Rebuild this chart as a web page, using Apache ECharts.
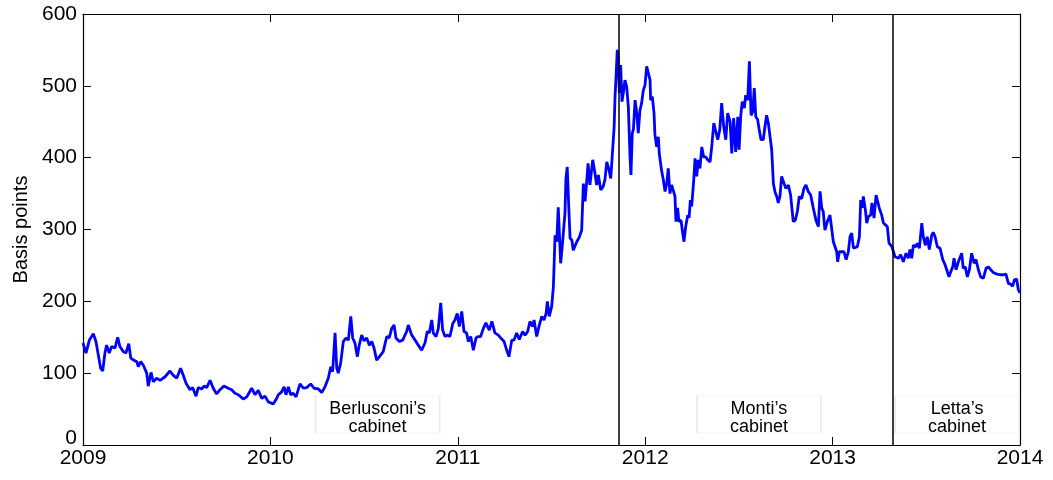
<!DOCTYPE html>
<html>
<head>
<meta charset="utf-8">
<script src="https://cdn.jsdelivr.net/npm/echarts@6/dist/echarts.min.js"></script>
<style>
  html, body { margin: 0; padding: 0; background: #fff; }
  #chart { width: 1053px; height: 480px; }
</style>
</head>
<body>
<div id="chart"></div>
<script>
// Italian 10-year BTP–Bund spread, basis points (dates as decimal years)
const dates = [
  2009.000, 2009.016, 2009.034, 2009.055, 2009.069, 2009.082, 2009.094, 2009.105, 2009.117, 2009.126,
  2009.140, 2009.153, 2009.171, 2009.185, 2009.197, 2009.215, 2009.229, 2009.244, 2009.255, 2009.272,
  2009.287, 2009.295, 2009.308, 2009.322, 2009.340, 2009.348, 2009.363, 2009.375, 2009.393, 2009.411,
  2009.438, 2009.464, 2009.482, 2009.500, 2009.521, 2009.535, 2009.550, 2009.571, 2009.585, 2009.603,
  2009.615, 2009.633, 2009.646, 2009.660, 2009.678, 2009.695, 2009.713, 2009.731, 2009.752, 2009.775,
  2009.793, 2009.811, 2009.829, 2009.855, 2009.874, 2009.900, 2009.918, 2009.935, 2009.954, 2009.971,
  2009.989, 2010.015, 2010.034, 2010.042, 2010.060, 2010.073, 2010.083, 2010.096, 2010.108, 2010.122,
  2010.137, 2010.158, 2010.176, 2010.194, 2010.215, 2010.233, 2010.256, 2010.274, 2010.291, 2010.309,
  2010.322, 2010.332, 2010.345, 2010.354, 2010.362, 2010.375, 2010.389, 2010.403, 2010.416, 2010.429,
  2010.439, 2010.451, 2010.464, 2010.474, 2010.487, 2010.499, 2010.514, 2010.528, 2010.541, 2010.553,
  2010.567, 2010.585, 2010.602, 2010.621, 2010.634, 2010.647, 2010.660, 2010.670, 2010.688, 2010.706,
  2010.727, 2010.736, 2010.754, 2010.772, 2010.789, 2010.807, 2010.825, 2010.837, 2010.848, 2010.861,
  2010.869, 2010.884, 2010.896, 2010.909, 2010.919, 2010.932, 2010.944, 2010.958, 2010.973, 2010.985,
  2010.997, 2011.008, 2011.021, 2011.033, 2011.047, 2011.056, 2011.069, 2011.083, 2011.097, 2011.109,
  2011.122, 2011.136, 2011.150, 2011.168, 2011.182, 2011.198, 2011.216, 2011.229, 2011.247, 2011.261,
  2011.273, 2011.288, 2011.300, 2011.314, 2011.328, 2011.346, 2011.359, 2011.373, 2011.385, 2011.400,
  2011.407, 2011.421, 2011.435, 2011.448, 2011.460, 2011.471, 2011.478, 2011.488, 2011.501, 2011.510,
  2011.519, 2011.528, 2011.536, 2011.549, 2011.560, 2011.572, 2011.577, 2011.584, 2011.592, 2011.599,
  2011.609, 2011.616, 2011.625, 2011.635, 2011.648, 2011.661, 2011.670, 2011.679, 2011.688, 2011.695,
  2011.705, 2011.720, 2011.732, 2011.741, 2011.750, 2011.763, 2011.776, 2011.785, 2011.795, 2011.807,
  2011.816, 2011.821, 2011.826, 2011.834, 2011.839, 2011.844, 2011.851, 2011.856, 2011.862, 2011.869,
  2011.876, 2011.883, 2011.892, 2011.901, 2011.910, 2011.919, 2011.924, 2011.931, 2011.937, 2011.946,
  2011.955, 2011.963, 2011.972, 2011.981, 2011.990, 2011.999, 2012.008, 2012.017, 2012.026, 2012.029,
  2012.038, 2012.047, 2012.052, 2012.061, 2012.070, 2012.075, 2012.088, 2012.097, 2012.106, 2012.115,
  2012.123, 2012.132, 2012.141, 2012.159, 2012.164, 2012.173, 2012.180, 2012.191, 2012.200, 2012.207,
  2012.216, 2012.227, 2012.234, 2012.241, 2012.248, 2012.259, 2012.266, 2012.275, 2012.283, 2012.292,
  2012.302, 2012.312, 2012.323, 2012.334, 2012.346, 2012.355, 2012.366, 2012.376, 2012.387, 2012.398,
  2012.408, 2012.419, 2012.430, 2012.440, 2012.453, 2012.462, 2012.472, 2012.483, 2012.494, 2012.501,
  2012.510, 2012.518, 2012.529, 2012.536, 2012.547, 2012.556, 2012.565, 2012.574, 2012.582, 2012.590,
  2012.600, 2012.607, 2012.618, 2012.630, 2012.639, 2012.648, 2012.657, 2012.666, 2012.675, 2012.684,
  2012.693, 2012.702, 2012.710, 2012.719, 2012.728, 2012.741, 2012.751, 2012.764, 2012.776, 2012.790,
  2012.801, 2012.812, 2012.822, 2012.835, 2012.847, 2012.858, 2012.870, 2012.883, 2012.897, 2012.911,
  2012.924, 2012.933, 2012.942, 2012.950, 2012.959, 2012.972, 2012.986, 2012.995, 2013.004, 2013.013,
  2013.022, 2013.027, 2013.036, 2013.049, 2013.061, 2013.072, 2013.084, 2013.093, 2013.102, 2013.111,
  2013.120, 2013.132, 2013.143, 2013.150, 2013.157, 2013.164, 2013.175, 2013.182, 2013.191, 2013.203,
  2013.210, 2013.221, 2013.232, 2013.241, 2013.249, 2013.262, 2013.271, 2013.281, 2013.292, 2013.301,
  2013.310, 2013.317, 2013.333, 2013.351, 2013.363, 2013.377, 2013.392, 2013.404, 2013.413, 2013.422,
  2013.431, 2013.445, 2013.452, 2013.463, 2013.476, 2013.484, 2013.495, 2013.505, 2013.516, 2013.529,
  2013.537, 2013.547, 2013.559, 2013.573, 2013.588, 2013.600, 2013.609, 2013.621, 2013.630, 2013.641,
  2013.648, 2013.659, 2013.671, 2013.680, 2013.689, 2013.697, 2013.708, 2013.719, 2013.730, 2013.742,
  2013.755, 2013.765, 2013.778, 2013.790, 2013.804, 2013.819, 2013.831, 2013.844, 2013.858, 2013.876,
  2013.893, 2013.911, 2013.925, 2013.938, 2013.950, 2013.961, 2013.970, 2013.982, 2013.991, 2014.000
];

const spread = [
  142, 128, 146, 155, 144, 125, 107, 103, 128, 139,
  128, 137, 135, 150, 137, 130, 128, 141, 121, 118,
  116, 109, 116, 111, 100, 82, 101, 88, 93, 90,
  95, 103, 97, 93, 107, 97, 86, 77, 80, 68,
  80, 78, 82, 80, 90, 79, 71, 77, 82, 79,
  77, 72, 70, 64, 67, 79, 70, 76, 65, 68,
  60, 57, 65, 70, 74, 81, 70, 81, 70, 72,
  67, 85, 79, 80, 85, 79, 78, 73, 81, 93,
  109, 102, 156, 107, 100, 114, 144, 149, 146, 179,
  149, 142, 123, 139, 153, 145, 149, 139, 144, 135,
  118, 124, 130, 151, 149, 162, 167, 149, 144, 146,
  158, 167, 153, 146, 139, 132, 142, 158, 156, 174,
  156, 151, 162, 198, 160, 151, 153, 151, 169, 174,
  183, 165, 186, 158, 156, 144, 151, 132, 149, 151,
  151, 162, 170, 160, 172, 156, 153, 149, 144, 132,
  123, 146, 146, 156, 147, 158, 153, 158, 172, 165,
  174, 151, 167, 179, 174, 183, 200, 179, 193, 220,
  292, 283, 331, 253, 285, 323, 371, 387, 332, 288,
  285, 271, 272, 283, 289, 299, 364, 339, 367, 392,
  362, 397, 378, 362, 376, 355, 360, 369, 394, 383,
  371, 390, 410, 441, 485, 510, 550, 541, 490, 529,
  478, 490, 508, 499, 471, 401, 376, 434, 439, 480,
  462, 434, 466, 476, 494, 501, 527, 529, 508, 480,
  485, 462, 432, 415, 429, 406, 381, 369, 353, 364,
  385, 350, 362, 346, 311, 330, 311, 313, 295, 283,
  304, 320, 316, 341, 332, 369, 399, 374, 397, 385,
  415, 401, 401, 397, 394, 415, 448, 450, 425, 439,
  476, 443, 425, 462, 450, 406, 455, 408, 457, 411,
  459, 478, 469, 487, 480, 534, 459, 464, 497, 457,
  453, 441, 425, 425, 443, 459, 448, 446, 411, 364,
  352, 346, 337, 346, 374, 364, 357, 362, 348, 311,
  313, 325, 346, 343, 357, 362, 353, 348, 330, 313,
  304, 353, 330, 325, 299, 311, 320, 318, 283, 281,
  269, 255, 269, 269, 269, 258, 269, 290, 295, 274,
  276, 276, 290, 341, 330, 346, 327, 309, 318, 320,
  337, 316, 348, 348, 330, 320, 309, 311, 304, 281,
  283, 276, 262, 260, 265, 255, 267, 260, 272, 260,
  278, 276, 281, 274, 309, 290, 278, 290, 272, 292,
  296, 290, 276, 274, 258, 251, 244, 234, 241, 248,
  260, 244, 255, 253, 267, 246, 248, 234, 244, 267,
  253, 258, 244, 234, 232, 246, 248, 244, 240, 238,
  237, 237, 238, 225, 224, 221, 230, 231, 216, 212
];

const yearLabels = ['2009', '2010', '2011', '2012', '2013', '2014'];
const spreadTicks = [0, 100, 200, 300, 400, 500, 600];

// Dates on which a new cabinet took office
const cabinetStarts = [2011.863, 2013.319];

// Cabinet captions, each with the date and spread level its box is centred on
const cabinetNames = ['Berlusconi\u2019s\ncabinet', 'Monti\u2019s\ncabinet', 'Letta\u2019s\ncabinet'];
const captionDates = [2010.572, 2012.607, 2013.664];
const captionLevels = [42.5, 42.5, 42.5];

const FONT = '"Liberation Sans", Arial, Helvetica, sans-serif';

const series = dates.map((d, i) => [d, spread[i]]);

const chart = echarts.init(document.getElementById('chart'), null, { renderer: 'canvas' });

const tickStyle = { show: true, inside: true, length: 8, lineStyle: { color: '#000', width: 1 } };
const lineStyleAxis = { show: true, onZero: false, lineStyle: { color: '#000', width: 1.2 } };

chart.setOption({
  animation: false,
  backgroundColor: '#fff',
  grid: { left: 83, right: 33, top: 14, bottom: 35, containLabel: false },
  xAxis: [
    {
      type: 'value', min: 2009, max: 2014, interval: 1,
      axisLine: lineStyleAxis,
      axisTick: tickStyle,
      splitLine: { show: false },
      axisLabel: {
        color: '#000', fontFamily: FONT, fontSize: 21, margin: 3,
        formatter: v => yearLabels[Math.round(v - 2009)] || ''
      }
    },
    {
      type: 'value', position: 'top', min: 2009, max: 2014, interval: 1,
      axisLine: lineStyleAxis, axisTick: tickStyle,
      axisLabel: { show: false }, splitLine: { show: false }
    }
  ],
  yAxis: [
    {
      type: 'value', min: 0, max: 600, interval: 100,
      name: 'Basis points', nameLocation: 'middle', nameGap: 52, nameRotate: 90,
      nameTextStyle: { color: '#000', fontFamily: FONT, fontSize: 20 },
      axisLine: lineStyleAxis,
      axisTick: tickStyle,
      splitLine: { show: false },
      axisLabel: {
        color: '#000', fontFamily: FONT, fontSize: 21, margin: 6,
        formatter: v => (v === spreadTicks[0] ? '{z|' + v + '}' : String(v)),
        rich: { z: { color: '#000', fontFamily: FONT, fontSize: 21, padding: [0, 0, 14, 0] } }
      }
    },
    {
      type: 'value', position: 'right', min: 0, max: 600, interval: 100,
      axisLine: lineStyleAxis, axisTick: tickStyle,
      axisLabel: { show: false }, splitLine: { show: false }
    }
  ],
  series: [
    {
      type: 'line',
      data: series,
      showSymbol: false,
      symbol: 'none',
      lineStyle: { color: '#0000ff', width: 2.8 },
      z: 3,
      markLine: {
        silent: true,
        symbol: ['none', 'none'],
        label: { show: false },
        lineStyle: { color: '#000', width: 1.5, type: 'solid' },
        data: cabinetStarts.map(x => ({ xAxis: x }))
      },
      markPoint: {
        silent: true,
        symbol: 'rect',
        symbolSize: [124, 37],
        itemStyle: { color: 'rgba(255,255,255,0)', borderColor: '#ececec', borderWidth: 1 },
        label: {
          show: true, position: 'inside', offset: [0, 4],
          color: '#000', fontFamily: FONT, fontSize: 18, lineHeight: 18,
          formatter: p => p.name
        },
        data: cabinetNames.map((n, i) => ({ name: n, coord: [captionDates[i], captionLevels[i]] }))
      }
    }
  ]
});
</script>
</body>
</html>
